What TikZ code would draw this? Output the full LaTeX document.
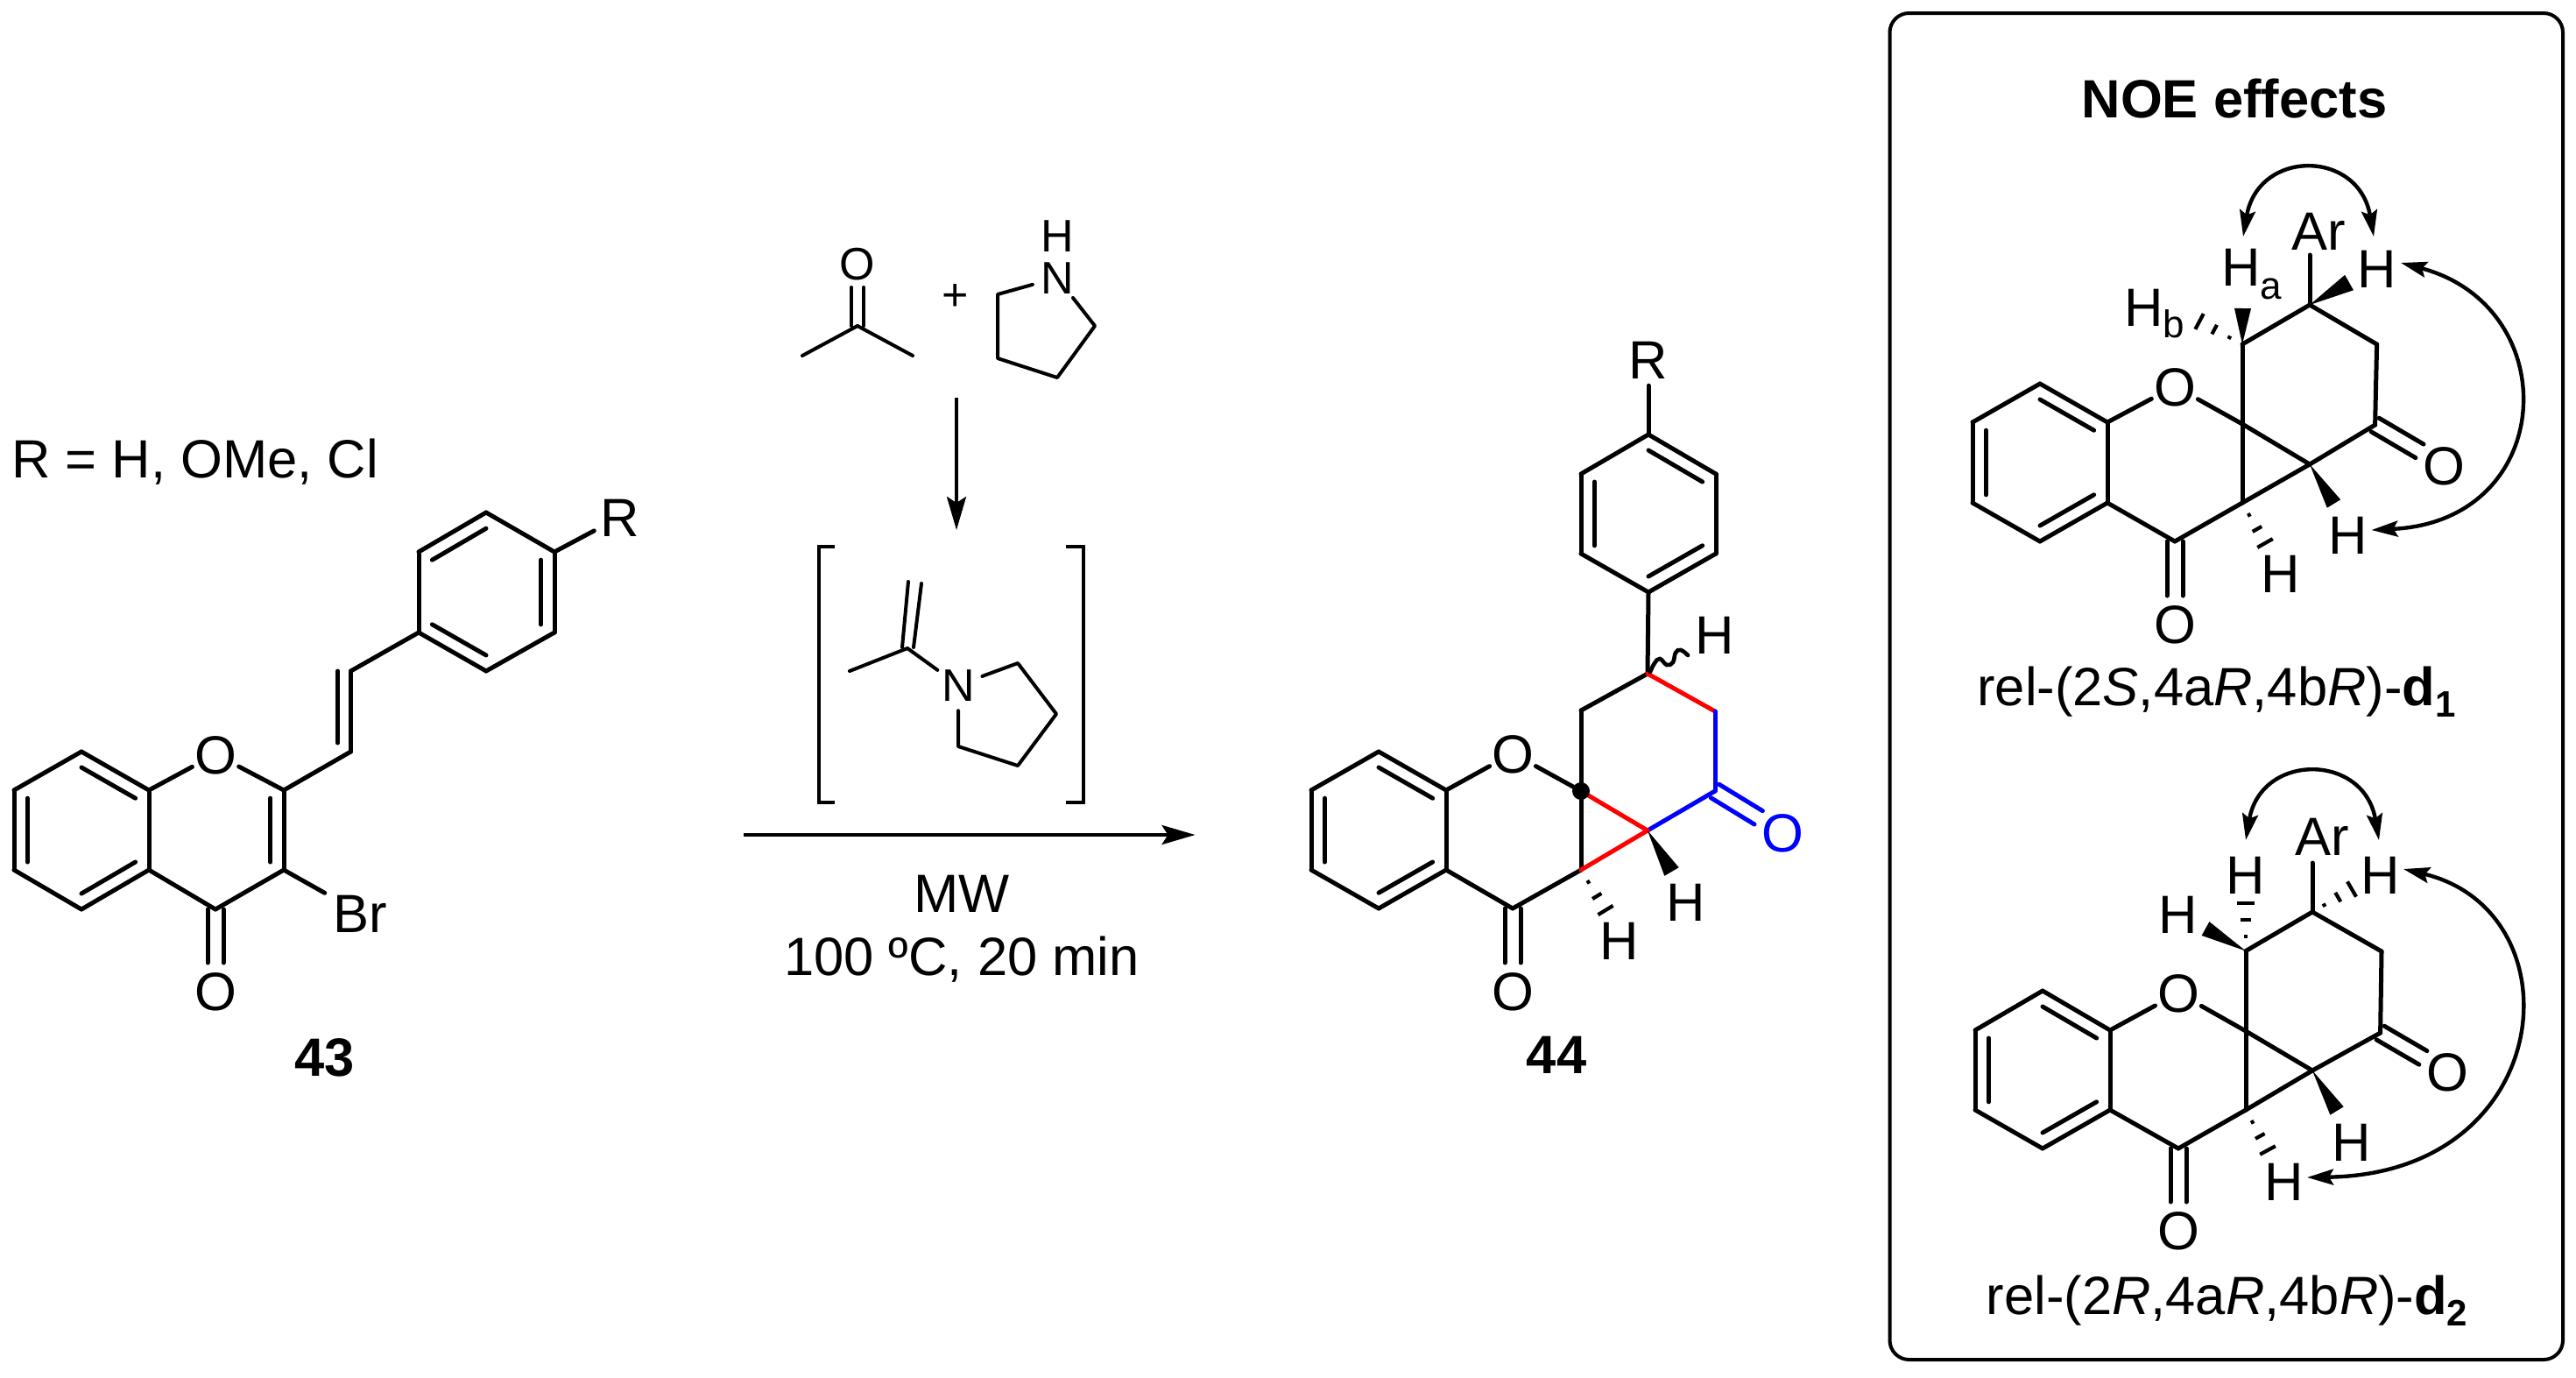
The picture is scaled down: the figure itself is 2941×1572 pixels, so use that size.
\documentclass[tikz,border=0pt]{standalone}
\usepackage{fontspec}
\setmainfont{Liberation Sans}
\usetikzlibrary{calc,arrows.meta}
\newcommand\bigf{\fontsize{61.5pt}{70pt}\selectfont}
\newcommand\smf{\fontsize{52pt}{60pt}\selectfont}
\newcommand\lbl[1]{\smash{\raisebox{-22pt}{\makebox[0pt]{#1}}}}
\newcommand\slbl[1]{\smash{\raisebox{-18.5pt}{\makebox[0pt]{#1}}}}
\newcommand\rdbl[3]{\draw[bond] ($(#1)!.2!(#3)$) -- ($(#2)!.2!(#3)$);}
\newcommand\cobond[3][]{%
  \draw[bond,shorten >=32pt,#1] ($(#2)!9pt!90:(#3)$) -- ($(#3)!9pt!-90:(#2)$);
  \draw[bond,shorten >=32pt,#1] ($(#2)!9pt!-90:(#3)$) -- ($(#3)!9pt!90:(#2)$);}
\newcommand\hashb[2]{\foreach \hf/\hw in {.3/2,.65/6,1/10}{%
  \draw[hashl] ($(#1)!\hf!(#2)!\hw pt!90:(#1)$) -- ($(#1)!\hf!(#2)!\hw pt!-90:(#1)$);}}
\newcommand\wedgeb[3]{\fill (#1) -- ($(#2)!#3 pt!90:(#1)$) -- ($(#2)!#3 pt!-90:(#1)$) -- cycle;}
\newcommand\bonds[1]{\foreach \ba/\bb in {#1}{\draw[bond] (\ba) -- (\bb);}}
\tikzset{
  atom/.style={circle,inner sep=0pt,minimum size=60pt,font=\bigf},
  satom/.style={circle,inner sep=0pt,minimum size=58pt,font=\smf},
  txt/.style={inner sep=0pt,anchor=base,font=\bigf},
  bond/.style={line width=5pt,line cap=round,line join=round},
  sbond/.style={line width=4pt,line cap=round,line join=round},
  hashl/.style={line width=4.2pt,line cap=butt},
  rxn/.style={line width=4pt,-{Stealth[length=38pt,width=22pt,inset=7pt]}},
  noe/.style={line width=4.4pt,{Stealth[length=30pt,width=18pt,inset=5pt]}-{Stealth[length=30pt,width=18pt,inset=5pt]}},
}
\begin{document}
\begin{tikzpicture}[x=1pt,y=-1pt]
\useasboundingbox (0,0) rectangle (2941,1572);
\fill[white] (0,0) rectangle (2941,1572);

% ---------- compound 43
\node[txt,anchor=base west] (rlist) at (13,545) {R = H, OMe, Cl};
\coordinate (b1) at (93,858); \coordinate (b2) at (16,902); \coordinate (b3) at (16,993);
\coordinate (b4) at (93,1038); \coordinate (b5) at (170,993); \coordinate (b6) at (170,902);
\coordinate (bc) at (93,948);
\node[atom] (o1) at (246,861) {\lbl{O}};
\coordinate (c2) at (324,902); \coordinate (c3) at (324,993); \coordinate (c4) at (246,1038);
\coordinate (pc) at (247,948);
\node[atom] (o4) at (246,1131) {\lbl{O}};
\node[atom,minimum size=92pt] (br) at (411,1042) {\lbl{Br}};
\coordinate (v1) at (400.5,858); \coordinate (v2) at (400.5,766);
\coordinate (f1) at (478,722); \coordinate (f2) at (478,630); \coordinate (f3) at (555,585);
\coordinate (f4) at (633,630); \coordinate (f5) at (633,722); \coordinate (f6) at (555,766);
\coordinate (fc) at (555,676);
\node[atom,minimum size=67pt] (r43) at (708,590) {\lbl{R}};
\bonds{b1/b2,b2/b3,b3/b4,b4/b5,b5/b6,b6/b1,b6/o1,o1/c2,c2/c3,c3/c4,c4/b5,c3/br,c2/v1,v1/v2,v2/f1,f1/f2,f2/f3,f3/f4,f4/f5,f5/f6,f6/f1,f4/r43}
\rdbl{b1}{b6}{bc}\rdbl{b2}{b3}{bc}\rdbl{b4}{b5}{bc}\rdbl{c2}{c3}{pc}
\rdbl{f2}{f3}{fc}\rdbl{f4}{f5}{fc}\rdbl{f1}{f6}{fc}
\draw[bond] ($(v2)+(-15,0)$) -- ($(v1)+(-15,-10)$);
\cobond{c4}{o4}
\node[txt] (n43) at (371,1228) {\bfseries 43};

% ---------- reagents
\node[satom] (ao) at (979,301) {\slbl{O}};
\coordinate (ac) at (979,372); \coordinate (am1) at (916,406); \coordinate (am2) at (1042,406);
\draw[sbond] (ac) -- (am1); \draw[sbond] (ac) -- (am2);
\draw[sbond] (972,372) -- (972,328); \draw[sbond] (986,372) -- (986,328);
\node[txt,font=\smf] (plus) at (1091,354) {+};
\node[satom] (pn) at (1207,317) {\slbl{N}};
\node[satom] (ph) at (1207,269) {\slbl{H}};
\coordinate (p1) at (1139,336); \coordinate (p2) at (1139,409); \coordinate (p3) at (1207,431); \coordinate (p4) at (1250,372);
\draw[sbond] (pn) -- (p1) -- (p2) -- (p3) -- (p4) -- (pn);
\coordinate (d1s) at (1092,454); \coordinate (d1e) at (1092,605);
\draw[rxn] (d1s) -- (d1e);
\draw[sbond,line cap=butt,line join=miter] (953,624) -- (935,624) -- (935,916) -- (953,916);
\draw[sbond,line cap=butt,line join=miter] (1217,624) -- (1237,624) -- (1237,916) -- (1217,916);
\coordinate (ec) at (1036,740); \coordinate (em) at (970,766);
\node[satom] (en) at (1094,782) {\slbl{N}};
\coordinate (e1) at (1162,757); \coordinate (e2) at (1206,815); \coordinate (e3) at (1162,874); \coordinate (e4) at (1094,852);
\draw[sbond] (ec) -- (em); \draw[sbond] (ec) -- (en);
\draw[sbond] (en) -- (e1) -- (e2) -- (e3) -- (e4) -- (en);
\draw[sbond] (1030,739) -- (1037,664); \draw[sbond] (1043,739) -- (1052,666);
\coordinate (a1s) at (849,953); \coordinate (a1e) at (1364.5,953);
\draw[rxn] (a1s) -- (a1e);
\node[txt] (mw) at (1098,1041) {MW};
\node[txt] (cond) at (1098,1113) {100 ºC, 20 min};

% ---------- compound 44
\node[atom] (r44) at (1882,410) {\lbl{R}};
\coordinate (g1) at (1882,496); \coordinate (g2) at (1959,541); \coordinate (g3) at (1959,632);
\coordinate (g4) at (1882,676); \coordinate (g5) at (1805,632); \coordinate (g6) at (1805,541);
\coordinate (gc) at (1882,586);
\coordinate (h1) at (1881,769); \coordinate (h2) at (1805,811); \coordinate (h3) at (1805,903);
\coordinate (h4) at (1881,948); \coordinate (h5) at (1958,903); \coordinate (h6) at (1958,812);
\coordinate (h7) at (1805,993); \coordinate (h8) at (1727,1037); \coordinate (h9) at (1651,993); \coordinate (h10) at (1651,902);
\coordinate (i1) at (1574,858); \coordinate (i2) at (1497,902); \coordinate (i3) at (1497,993); \coordinate (i4) at (1574,1037);
\coordinate (ic) at (1574,948);
\node[atom] (oa) at (1727,860) {\lbl{O}};
\node[atom] (ob) at (1727,1131) {\lbl{O}};
\node[atom,text=blue] (oc) at (2035,950) {\lbl{O}};
\bonds{r44/g1,g1/g2,g2/g3,g3/g4,g4/g5,g5/g6,g6/g1,g4/h1,h1/h2,h2/h3,h3/h7,h7/h8,h8/h9,h9/h10,h10/i1,i1/i2,i2/i3,i3/i4,i4/h9,h10/oa,oa/h3}
\rdbl{g1}{g2}{gc}\rdbl{g5}{g6}{gc}\rdbl{g3}{g4}{gc}
\rdbl{i1}{h10}{ic}\rdbl{i2}{i3}{ic}\rdbl{i4}{h9}{ic}
\draw[bond,red] (h1) -- (h6);
\draw[bond,blue] (h6) -- (h5);
\draw[bond,blue] (h5) -- (h4);
\draw[bond,red] (h3) -- (h4);
\draw[bond,red] (h4) -- (h7);
\cobond[blue]{h5}{oc}
\cobond{h8}{ob}
\node[circle,fill=black,inner sep=0pt,minimum size=20pt] (sp) at (h3) {};
\coordinate (hw44) at (1908.5,995); \wedgeb{h4}{hw44}{9.5}
\coordinate (hh44) at (1833,1039); \hashb{h7}{hh44}
\draw[line width=4.6pt,line cap=round] plot[smooth,tension=.7] coordinates {(1884,767) (1889,757) (1895,752) (1903,759) (1910,756) (1913,745) (1919,742) (1927,748)};
\node[atom] (ha) at (1958,724) {\lbl{H}};
\node[atom] (hb) at (1925,1029) {\lbl{H}};
\node[atom] (hc) at (1849,1073) {\lbl{H}};
\node[txt] (n44) at (1777,1225) {\bfseries 44};

% ---------- panel
\draw[line width=4pt,rounded corners=22pt] (2157.5,15) rectangle (2926,1552);
\node[txt] (noet) at (2551,134) {\bfseries NOE effects};

% d1
\coordinate (k1) at (2637,348); \coordinate (k2) at (2713.6,393); \coordinate (k3) at (2711.6,485);
\coordinate (k4) at (2637,530); \coordinate (k5) at (2560,484); \coordinate (k6) at (2560,393);
\coordinate (k7) at (2560,574); \coordinate (k8) at (2483,618); \coordinate (k9) at (2406,574); \coordinate (k10) at (2406,482);
\coordinate (l1) at (2329,438); \coordinate (l2) at (2252,482); \coordinate (l3) at (2252,574); \coordinate (l4) at (2329,618);
\coordinate (lc) at (2329,528);
\node[atom] (koa) at (2483,441) {\lbl{O}};
\node[atom] (kob) at (2483,712) {\lbl{O}};
\node[atom] (koc) at (2790,531) {\lbl{O}};
\coordinate (kar) at (2637,291);
\bonds{k1/k2,k2/k3,k3/k4,k4/k5,k5/k6,k6/k1,k5/k7,k4/k7,k7/k8,k8/k9,k9/k10,k10/l1,l1/l2,l2/l3,l3/l4,l4/k9,k10/koa,koa/k5,k1/kar}
\rdbl{l1}{k10}{lc}\rdbl{l2}{l3}{lc}\rdbl{l4}{k9}{lc}
\cobond{k3}{koc}
\cobond{k8}{kob}
\coordinate (kw1) at (2664.5,575); \wedgeb{k4}{kw1}{9}
\coordinate (kw2) at (2682,322.5); \wedgeb{k1}{kw2}{10}
\coordinate (kw3) at (2560.5,352); \wedgeb{k6}{kw3}{9.5}
\coordinate (kh1) at (2586,620); \hashb{k7}{kh1}
\coordinate (kh2) at (2511,367); \hashb{k6}{kh2}
\node[atom] (kar0) at (2647,263) {\lbl{Ar}};
\node[txt,anchor=base west] (kha) at (2536,326.5) {H\raisebox{-14.5pt}{\fontsize{44pt}{50pt}\selectfont a}};
\node[txt,anchor=base west] (khb) at (2425,372) {H\raisebox{-13pt}{\fontsize{44pt}{50pt}\selectfont b}};
\node[atom] (khr) at (2713.5,306) {\lbl{H}};
\node[atom] (khw) at (2681,610) {\lbl{H}};
\node[atom] (khh) at (2604,654) {\lbl{H}};
\coordinate (kt1) at (2561,270); \coordinate (kt2) at (2710,270);
\draw[noe] (kt1) .. controls (2578,170) and (2693,170) .. (kt2);
\coordinate (kt3) at (2741,300); \coordinate (kt4) at (2707.5,605);
\draw[noe] (kt3) .. controls (2930,350) and (2920,595) .. (kt4);
\node[txt] (kl) at (2530.5,805) {rel-(2\textit{S},4a\textit{R},4b\textit{R})-\textbf{d}\raisebox{-13pt}{\fontsize{42pt}{50pt}\selectfont\bfseries 1}};

% d2
\coordinate (m1) at (2640,1041); \coordinate (m2) at (2719,1086); \coordinate (m3) at (2717.6,1179);
\coordinate (m4) at (2640,1222); \coordinate (m5) at (2564,1177); \coordinate (m6) at (2564,1085.5);
\coordinate (m7) at (2564,1267); \coordinate (m8) at (2487,1311); \coordinate (m9) at (2409,1267); \coordinate (m10) at (2409,1176);
\coordinate (q1) at (2332,1131); \coordinate (q2) at (2255,1176); \coordinate (q3) at (2255,1267); \coordinate (q4) at (2332,1311);
\coordinate (qc) at (2332,1221);
\node[atom] (moa) at (2487,1133.5) {\lbl{O}};
\node[atom] (mob) at (2487,1404) {\lbl{O}};
\node[atom] (moc) at (2794,1223.5) {\lbl{O}};
\coordinate (mar) at (2640,985);
\bonds{m1/m2,m2/m3,m3/m4,m4/m5,m5/m6,m6/m1,m5/m7,m4/m7,m7/m8,m8/m9,m9/m10,m10/q1,q1/q2,q2/q3,q3/q4,q4/m9,m10/moa,moa/m5,m1/mar}
\rdbl{q1}{m10}{qc}\rdbl{q2}{q3}{qc}\rdbl{q4}{m9}{qc}
\cobond{m3}{moc}
\cobond{m8}{mob}
\coordinate (mw1) at (2668,1268); \wedgeb{m4}{mw1}{9}
\coordinate (mw2) at (2518,1060); \wedgeb{m6}{mw2}{9}
\coordinate (mh1) at (2589,1313); \hashb{m7}{mh1}
\coordinate (mh2) at (2564,1031); \hashb{m6}{mh2}
\coordinate (mh3) at (2685,1015); \hashb{m1}{mh3}
\node[atom] (mar0) at (2651,954) {\lbl{Ar}};
\node[atom] (mht) at (2564,998) {\lbl{H}};
\node[atom] (mhr) at (2717.6,998) {\lbl{H}};
\node[atom] (mhl) at (2487,1043) {\lbl{H}};
\node[atom] (mhw) at (2685,1303) {\lbl{H}};
\node[atom] (mhh) at (2608,1348) {\lbl{H}};
\coordinate (mt1) at (2564,959); \coordinate (mt2) at (2716,959);
\draw[noe] (mt1) .. controls (2581,859) and (2699,859) .. (mt2);
\coordinate (mt3) at (2744,992); \coordinate (mt4) at (2634,1344);
\draw[noe] (mt3) .. controls (2945,1040) and (2920,1340) .. (mt4);
\node[txt] (ml) at (2542.5,1500) {rel-(2\textit{R},4a\textit{R},4b\textit{R})-\textbf{d}\raisebox{-13pt}{\fontsize{42pt}{50pt}\selectfont\bfseries 2}};
\end{tikzpicture}
\end{document}
